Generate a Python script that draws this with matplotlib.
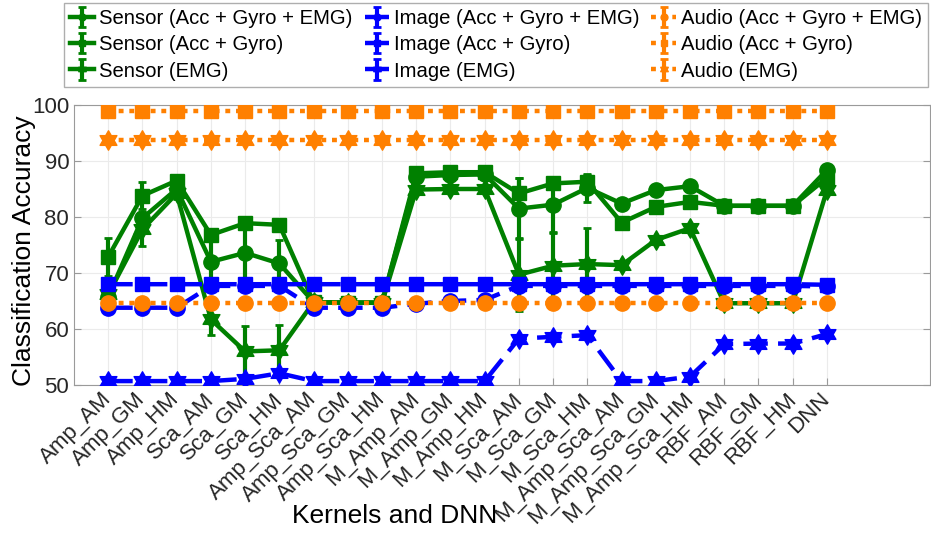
import numpy as np
import matplotlib
matplotlib.use("Agg")
from matplotlib import pyplot as plt
from matplotlib.path import Path

plt.rcParams['font.family'] = ['Liberation Sans', 'DejaVu Sans']

kernels = ["Amp_AM", "Amp_GM", "Amp_HM", "Sca_AM", "Sca_GM", "Sca_HM",
           "Amp_Sca_AM", "Amp_Sca_GM", "Amp_Sca_HM",
           "M_Amp_AM", "M_Amp_GM", "M_Amp_HM", "M_Sca_AM", "M_Sca_GM", "M_Sca_HM",
           "M_Amp_Sca_AM", "M_Amp_Sca_GM", "M_Amp_Sca_HM",
           "RBF_AM", "RBF_GM", "RBF_HM", "DNN"]

# sensor fusion accuracies (mean) and error bar half widths
sensor_all = [65.8, 79.8, 85.0, 72.0, 73.6, 71.7, 64.8, 64.7, 64.7, 87.2, 87.5, 87.6,
              81.5, 82.2, 85.2, 82.4, 84.8, 85.5, 82.0, 82.0, 82.0, 88.4]
sensor_all_err = [0.5, 1.0, 0.8, 4.7, 5.0, 4.2, 0.3, 0.3, 0.3, 0.5, 0.5, 0.5,
                  5.5, 5.0, 2.5, 0.5, 0.5, 0.5, 0.3, 0.3, 0.3, 0.5]
sensor_ag = [72.9, 83.8, 86.5, 76.8, 78.9, 78.6, 64.8, 64.7, 64.7, 87.8, 88.0, 88.0,
             84.2, 86.0, 86.3, 79.0, 81.8, 82.7, 82.0, 82.0, 82.0, 87.0]
sensor_ag_err = [3.4, 2.4, 0.8, 1.0, 0.8, 0.8, 0.3, 0.3, 0.3, 0.5, 0.5, 0.5,
                 2.7, 1.0, 1.2, 0.5, 0.5, 0.5, 0.3, 0.3, 0.3, 0.5]
sensor_emg = [66.2, 77.8, 84.2, 61.7, 56.0, 56.2, 64.8, 64.7, 64.7, 84.9, 85.0, 85.0,
              69.7, 71.3, 71.6, 71.4, 75.9, 78.0, 64.6, 64.6, 64.6, 84.8]
sensor_emg_err = [1.0, 3.0, 1.0, 2.7, 4.6, 4.5, 0.3, 0.3, 0.3, 0.5, 0.5, 0.5,
                  6.5, 6.0, 6.4, 0.5, 0.5, 0.5, 0.3, 0.3, 0.3, 0.5]

image_all = [63.8, 63.8, 63.8, 67.7, 67.7, 67.7, 63.8, 63.8, 63.8, 64.5, 65.0, 65.2,
             67.7, 67.7, 67.7, 67.7, 67.7, 67.7, 67.7, 67.7, 67.7, 67.6]
image_ag = [68.0, 68.0, 68.0, 68.0, 68.0, 68.0, 68.0, 68.0, 68.0, 68.0, 68.0, 68.0,
            68.0, 68.0, 68.0, 68.0, 68.0, 68.0, 68.0, 68.0, 68.0, 67.9]
image_emg = [50.7, 50.7, 50.7, 50.7, 51.1, 52.1, 50.7, 50.7, 50.7, 50.7, 50.7, 50.7,
             58.3, 58.6, 58.9, 50.7, 50.7, 51.5, 57.3, 57.4, 57.4, 59.1]

audio_all = [64.6, 64.6, 64.6, 64.6, 64.6, 64.6, 64.6, 64.6, 64.6, 64.6, 64.6, 64.6,
             64.6, 64.6, 64.6, 64.6, 64.6, 64.6, 64.6, 64.6, 64.6, 64.6]
audio_ag = [99.0, 99.0, 99.0, 99.0, 99.0, 99.0, 99.0, 99.0, 99.0, 99.0, 99.0, 99.0,
            99.0, 99.0, 99.0, 99.0, 99.0, 99.0, 99.0, 99.0, 99.0, 99.0]
audio_emg = [93.8, 93.8, 93.8, 93.8, 93.8, 93.8, 93.8, 93.8, 93.8, 93.8, 93.8, 93.8,
             93.8, 93.8, 93.8, 93.8, 93.8, 93.8, 93.8, 93.8, 93.8, 93.8]
small_err = 0.4

# six pointed star marker
ang_out = np.deg2rad(90 + 60 * np.arange(6))
ang_in = ang_out + np.deg2rad(30)
pts = []
for a, b in zip(ang_out, ang_in):
    pts.append((np.cos(a), np.sin(a)))
    pts.append((np.cos(b) / np.sqrt(3), np.sin(b) / np.sqrt(3)))
pts.append(pts[0])
hexagram = Path(pts, [Path.MOVETO] + [Path.LINETO] * 11 + [Path.CLOSEPOLY])

green = "#008000"
blue = "#0000ff"
orange = "#ff8000"
x = np.arange(1, len(kernels) + 1)

fig = plt.figure(figsize=(9.31, 5.39), dpi=100)
ax = fig.add_axes([0.0795, 0.2857, 0.919, 0.5195])

series = [
    (sensor_all, sensor_all_err, green, "solid", "o", 11, "Sensor (Acc + Gyro + EMG)"),
    (sensor_ag, sensor_ag_err, green, "solid", "s", 10, "Sensor (Acc + Gyro)"),
    (sensor_emg, sensor_emg_err, green, "solid", hexagram, 14, "Sensor (EMG)"),
    (image_all, small_err, blue, "dashed", "o", 11, "Image (Acc + Gyro + EMG)"),
    (image_ag, small_err, blue, "dashed", "s", 10, "Image (Acc + Gyro)"),
    (image_emg, small_err, blue, "dashed", hexagram, 14, "Image (EMG)"),
    (audio_all, small_err, orange, "dotted", "o", 11, "Audio (Acc + Gyro + EMG)"),
    (audio_ag, small_err, orange, "dotted", "s", 10, "Audio (Acc + Gyro)"),
    (audio_emg, small_err, orange, "dotted", hexagram, 14, "Audio (EMG)"),
]

for k, (vals, err, col, ls, mk, ms, lab) in enumerate(series):
    cont = ax.errorbar(x, vals, yerr=err, color=col, lw=3.2, marker=mk, ms=ms,
                       mec=col, mfc=col, elinewidth=3, capsize=3, capthick=2,
                       label=lab, zorder=3 + k)
    line = cont[0]
    if ls == "dashed":
        line.set_dashes([5.5, 2.3])
    elif ls == "dotted":
        line.set_dashes([1.1, 1.3])

ax.set_xlim(0, 25)
ax.set_ylim(50, 100)
ax.set_yticks([50, 60, 70, 80, 90, 100])
ax.set_xticks(x)
ax.set_xticklabels(kernels, rotation=45, ha="right", va="center",
                   rotation_mode="anchor", fontsize=16, color="#262626")
ax.tick_params(axis="y", labelsize=16, labelcolor="#262626")
ax.tick_params(direction="in", top=True, right=True, color="#9a9a9a", length=5)
ax.tick_params(axis="x", pad=8)
ax.grid(True, color="#ebebeb", lw=0.8)
ax.set_axisbelow(True)
for sp in ax.spines.values():
    sp.set_color("#9a9a9a")

ax.set_ylabel("Classification Accuracy", fontsize=19)
ax.yaxis.set_label_coords(-0.044, 0.48)
ax.set_xlabel("Kernels and DNN", fontsize=19)
ax.xaxis.set_label_coords(0.375, -0.425)

leg = fig.legend(loc="upper left", bbox_to_anchor=(0.0687, 0.8386, 0.928, 0.156),
                 mode="expand", ncol=3, fontsize=14.6, frameon=True, fancybox=False,
                 edgecolor="#9a9a9a", handlelength=1.2, handletextpad=0.25,
                 labelspacing=0.36, borderpad=0.3, markerscale=0.45, borderaxespad=0)
leg.get_frame().set_linewidth(1.0)

plt.savefig("out.png", dpi=100)
